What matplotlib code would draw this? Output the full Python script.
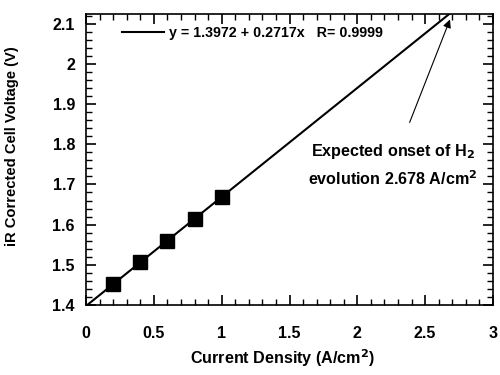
import numpy as np
import matplotlib.pyplot as plt
from matplotlib.ticker import MultipleLocator

plt.rcParams['font.family'] = ['Liberation Sans', 'DejaVu Sans']
plt.rcParams['font.weight'] = 'bold'

# measured points
current = [0.2, 0.4, 0.6, 0.8, 1.0]
voltage = [1.452, 1.507, 1.559, 1.614, 1.670]

# linear fit
intercept, slope = 1.3972, 0.2717
fit_x = [0, 2.678]

xticks = [0, 0.5, 1, 1.5, 2, 2.5, 3]
xlabels = ['0', '0.5', '1', '1.5', '2', '2.5', '3']
yticks = [1.4, 1.5, 1.6, 1.7, 1.8, 1.9, 2.0, 2.1]
ylabels = ['1.4', '1.5', '1.6', '1.7', '1.8', '1.9', '2', '2.1']

fig, ax = plt.subplots(figsize=(5, 3.75), dpi=100)
fig.subplots_adjust(left=0.172, right=0.986, top=0.963, bottom=0.187)

ax.plot(fit_x, [intercept + slope * x for x in fit_x], color='black', lw=1.5,
        label='y = 1.3972 + 0.2717x   R= 0.9999')
ax.plot(current, voltage, 's', color='black', ms=9.5, zorder=3)

ax.set_xticks(xticks)
ax.set_xticklabels(xlabels)
ax.set_yticks(yticks)
ax.set_yticklabels(ylabels)
ax.xaxis.set_minor_locator(MultipleLocator(0.1))
ax.yaxis.set_minor_locator(MultipleLocator(0.02))
ax.set_xlim(0, 3)
ax.set_ylim(1.4, 2.125)
ax.tick_params(which='both', direction='in', top=True, right=True, labelsize=11.5)
ax.tick_params(axis='x', pad=15)
ax.tick_params(axis='y', pad=8)
ax.tick_params(which='major', length=7, width=1.2)
ax.tick_params(which='minor', length=4, width=1)
for s in ax.spines.values():
    s.set_linewidth(1.2)

ax.set_xlabel('Current Density (A/cm$^2$)', fontsize=11.6, fontweight='bold')
ax.set_ylabel('iR Corrected Cell Voltage (V)', fontsize=10.6, fontweight='bold')
ax.xaxis.set_label_coords(0.483, -0.145)
ax.yaxis.set_label_coords(-0.165, 0.546)

ax.legend(loc='upper left', frameon=False, handlelength=2.9, handletextpad=0.35,
          borderpad=0, borderaxespad=0, bbox_to_anchor=(0.0885, 0.958),
          prop={'weight': 'bold', 'size': 10.3})

ax.annotate('Expected onset of H$_2$\nevolution 2.678 A/cm$^2$',
            xy=(2.683, 2.111), xytext=(2.263, 1.749),
            ha='center', va='center', fontsize=11.6, fontweight='bold', linespacing=1.5,
            arrowprops=dict(arrowstyle='-|>', color='black', lw=0.8,
                            shrinkA=13, shrinkB=0, mutation_scale=12))

fig.savefig('out.png', dpi=100)
